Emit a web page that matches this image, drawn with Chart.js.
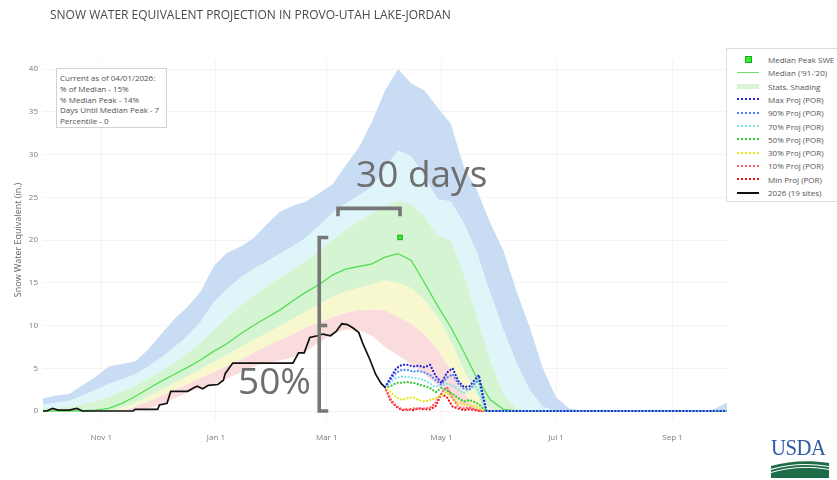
<!DOCTYPE html>
<html lang="en">
<head>
<meta charset="utf-8">
<title>Snow Water Equivalent Projection in Provo-Utah Lake-Jordan</title>
<script src="https://cdn.jsdelivr.net/npm/chart.js@4.4.1/dist/chart.umd.min.js"></script>
<style>
  html, body { margin: 0; padding: 0; background: #fff; overflow: hidden; }
  #wrap { position: relative; width: 837px; height: 480px; overflow: hidden; font-family: "Open Sans", "Liberation Sans", sans-serif; }
  #chart { position: absolute; left: 0; top: 0; }
  .title { position: absolute; left: 50px; top: 9px; font-size: 12px; line-height: 12px; color: #4a4a4a; white-space: nowrap; }
  .info { position: absolute; left: 56px; top: 68px; width: 106px; height: 54px; padding: 4px 0 0 3px; border: 1px solid #d2d2d2; background: #fff; font-size: 8px; line-height: 10.8px; color: #505050; white-space: nowrap; }
  .legend { position: absolute; left: 726px; top: 48px; width: 130px; height: 152px; border: 1px solid #dcdcdc; background: #fff; }
  .legend .row { position: absolute; left: 0; height: 13px; display: flex; align-items: center; font-size: 8px; color: #555; white-space: nowrap; }
  .legend .sym { width: 24px; margin-left: 9px; margin-right: 8px; height: 13px; display: flex; align-items: center; justify-content: center; }
  .note { position: absolute; font-size: 37px; line-height: 37px; color: #6e6e6e; white-space: nowrap; }
  .logo { position: absolute; left: 771px; top: 436px; width: 60px; }
  .logo .usda { font-family: "Liberation Serif", "DejaVu Serif", serif; font-size: 23px; line-height: 23px; color: #2b5ba6; letter-spacing: -0.5px; transform: scaleX(0.9); transform-origin: left center; }
  .logo svg { display: block; margin-top: 2px; }
</style>
</head>
<body>
<div id="wrap">
  <canvas id="chart" width="837" height="480"></canvas>
  <div class="title">SNOW WATER EQUIVALENT PROJECTION IN PROVO-UTAH LAKE-JORDAN</div>
  <div class="info">
    Current as of 04/01/2026:<br>
    % of Median - 15%<br>
    % Median Peak - 14%<br>
    Days Until Median Peak - 7<br>
    Percentile - 0
  </div>
  <div class="legend">
    <div class="row" style="top:4px"><span class="sym"><span style="width:5px;height:5px;background:#33ee33;border:1px solid #1caa1c;display:block"></span></span>Median Peak SWE</div>
    <div class="row" style="top:17.3px"><span class="sym"><span style="width:22px;height:0;border-top:1.5px solid #6ee06e;display:block"></span></span>Median ('91-'20)</div>
    <div class="row" style="top:30.6px"><span class="sym"><span style="width:22px;height:5px;background:#d9f5d6;display:block"></span></span>Stats. Shading</div>
    <div class="row" style="top:43.9px"><span class="sym"><span style="width:22px;height:0;border-top:2px dotted #2222dd;display:block"></span></span>Max Proj (POR)</div>
    <div class="row" style="top:57.2px"><span class="sym"><span style="width:22px;height:0;border-top:2px dotted #4f86f7;display:block"></span></span>90% Proj (POR)</div>
    <div class="row" style="top:70.5px"><span class="sym"><span style="width:22px;height:0;border-top:2px dotted #7fe6e6;display:block"></span></span>70% Proj (POR)</div>
    <div class="row" style="top:83.8px"><span class="sym"><span style="width:22px;height:0;border-top:2px dotted #33cc33;display:block"></span></span>50% Proj (POR)</div>
    <div class="row" style="top:97.1px"><span class="sym"><span style="width:22px;height:0;border-top:2px dotted #e6e619;display:block"></span></span>30% Proj (POR)</div>
    <div class="row" style="top:110.4px"><span class="sym"><span style="width:22px;height:0;border-top:2px dotted #ff5c6c;display:block"></span></span>10% Proj (POR)</div>
    <div class="row" style="top:123.7px"><span class="sym"><span style="width:22px;height:0;border-top:2px dotted #ee1111;display:block"></span></span>Min Proj (POR)</div>
    <div class="row" style="top:137px"><span class="sym"><span style="width:22px;height:0;border-top:2px solid #111;display:block"></span></span>2026 (19 sites)</div>
  </div>
  <div class="note" style="left:356px;top:154px">30 days</div>
  <div class="note" style="left:238px;top:361px">50%</div>
  <div class="logo">
    <div class="usda">USDA</div>
    <svg width="58" height="17" viewBox="0 0 58 17">
      <rect x="0" y="0" width="58" height="17" fill="#1e6b48"/>
      <path d="M0 5 C 18 0, 38 -1, 58 2 L58 0 L0 0 Z" fill="#ffffff"/>
      <path d="M0 8.5 C 20 2.5, 40 2.5, 58 5.5" stroke="#ffffff" stroke-width="1.2" fill="none"/>
      <path d="M0 11.5 C 22 5, 42 5.5, 58 8.5" stroke="#ffffff" stroke-width="1" fill="none"/>
    </svg>
  </div>
</div>
<script>
// Day of water year (0 = Oct 1) for the weekly statistics
const days = [0,7,14,21,28,35,42,49,56,63,70,77,84,91,98,105,112,119,126,133,140,147,154,161,168,175,182,189,196,203,210,217,224,231,238,245,252,259,266,273,280,287,294,301,308,315,322,329,336,343,350,357,364];

// Period-of-record statistics, inches of SWE
const maxSwe    = [1.5,1.8,2.0,3.0,4.0,5.2,5.5,5.8,7.2,9.0,10.8,12.2,14.0,17.0,18.5,19.2,20.2,21.8,23.3,24.0,24.5,25.5,26.5,28.7,30.8,33.8,37.5,40.0,38.3,37.5,35.5,33.6,28.5,25.8,22.0,18.8,14.0,9.8,5.0,1.6,0.3,0,0,0,0,0,0,0,0,0,0,0.2,1.0];
const p90Swe    = [0.8,1.0,1.2,1.8,2.5,3.2,3.7,4.3,5.2,6.3,7.5,8.8,10.5,12.8,14.3,15.6,16.6,17.5,18.4,19.3,20.3,21.7,23.2,24.3,25.2,26.2,28.5,30.5,29.8,27.5,24.8,24.5,22.0,18.5,13.8,9.5,5.6,2.5,0.5,0,0,0,0,0,0,0,0,0,0,0,0,0,0];
const p70Swe    = [0.3,0.4,0.5,0.8,1.2,1.7,2.3,3.0,3.8,4.7,5.7,6.8,8.0,9.5,11.0,12.3,13.5,14.6,15.6,16.6,17.6,18.7,20.0,21.2,22.2,23.1,24.0,24.6,24.2,22.8,20.5,20.0,16.0,11.0,6.0,2.0,0.3,0,0,0,0,0,0,0,0,0,0,0,0,0,0,0,0];
const medianSwe = [0,0,0,0,0.1,0.3,0.9,1.7,2.6,3.5,4.3,5.1,6.0,7.0,7.9,9.0,10.0,10.9,11.8,12.9,13.9,14.8,15.9,16.6,16.9,17.2,18.0,18.4,17.6,15.0,12.3,9.8,6.9,3.8,1.3,0.2,0,0,0,0,0,0,0,0,0,0,0,0,0,0,0,0,0];
const p30Swe    = [0,0,0,0,0,0.1,0.4,1.0,1.7,2.5,3.3,4.1,4.9,5.8,6.6,7.5,8.3,9.1,9.9,10.8,11.7,12.5,13.4,14.0,14.4,14.8,15.3,15.0,14.4,13.0,11.0,8.2,4.8,2.0,0.2,0,0,0,0,0,0,0,0,0,0,0,0,0,0,0,0,0,0];
const p10Swe    = [0,0,0,0,0,0,0.1,0.5,1.1,1.8,2.5,3.2,3.9,4.6,5.3,6.0,6.8,7.6,8.3,9.0,9.8,10.4,11.0,11.5,11.8,11.9,11.8,11.0,10.2,9.0,7.2,4.8,2.1,0.2,0,0,0,0,0,0,0,0,0,0,0,0,0,0,0,0,0,0,0];
const minSwe    = [0,0,0,0,0,0,0,0.1,0.3,0.8,1.5,2.2,2.7,3.2,3.8,4.5,5.2,5.6,5.9,6.3,7.0,8.0,9.0,9.5,9.5,8.8,7.5,6.5,5.5,4.3,3.0,1.5,0.4,0,0,0,0,0,0,0,0,0,0,0,0,0,0,0,0,0,0,0,0];

// Median peak
const peakDay = [190];
const peakSwe = [20.3];

// 2026 observed (19 sites)
const currentDays = [0,2,5,8,14,18,21,48,49,61,62,66,68,77,80,82,85,88,93,96,97,101,133,136,139,142,146,149,153,156,159,162,165,168,170,174,177,180,182];
const currentSwe  = [0,0,0.3,0.1,0.1,0.3,0,0,0.2,0.2,0.7,0.9,2.3,2.3,2.7,2.9,2.6,3.0,3.1,3.6,4.4,5.6,5.6,6.8,6.8,8.6,8.8,9.0,8.8,9.3,10.2,10.1,9.7,9.2,8.0,6.0,4.3,3.2,2.8];

// Projections from Apr 1 using period-of-record melt
const projDays = [182,185,188,191,194,197,200,203,206,209,212,215,218,221,224,227,230,232,234,236,364];
const projMax  = [2.8,3.9,5.0,5.4,5.4,5.2,5.3,5.1,5.4,4.1,3.3,4.5,5.0,3.5,2.8,2.9,3.7,4.2,2.0,0,0];
const proj90   = [2.8,3.7,4.5,4.8,4.8,4.6,4.7,4.5,4.2,3.6,3.1,3.9,4.3,3.2,2.6,2.5,3.3,3.6,1.5,0,0];
const proj70   = [2.8,3.4,3.9,4.0,4.0,3.9,3.8,3.6,3.2,2.8,3.0,3.2,3.0,2.5,2.1,2.6,2.9,2.2,0.8,0,0];
const proj50   = [2.8,2.9,3.3,3.3,3.4,3.3,3.1,2.9,2.7,2.2,2.7,2.4,2.0,1.5,1.1,1.3,1.0,0.8,0.3,0,0];
const proj30   = [2.8,2.2,1.6,1.3,1.5,1.6,1.3,1.1,1.3,1.5,1.8,2.2,1.5,0.8,0.9,0.6,0.6,0.3,0.1,0,0];
const proj10   = [2.8,1.4,0.6,0.2,0.1,0.3,0.3,0.3,0.4,1.0,2.1,2.8,1.5,0.5,0.3,0.4,0.2,0.1,0,0,0];
const projMin  = [2.8,1.2,0.5,0.1,0.2,0.1,0.3,0.2,0.2,0.6,2.0,1.6,0.5,0.3,0.1,0.2,0.1,0,0,0,0];

// Axis ticks
const tickDays   = [31,92,151,212,273,335];
const tickLabels = ['Nov 1','Jan 1','Mar 1','May 1','Jul 1','Sep 1'];
const yTickValues = [0,5,10,15,20,25,30,35,40];

// Bracket annotations (day of water year / SWE)
const spanBracket  = { startDay: 157, endDay: 190, swe: 23.7 };
const depthBracket = { day: 147, low: 0, high: 20.3, mid: 10 };

const pts = (xs, ys) => xs.map((d, i) => ({ x: d, y: ys[i] }));

function band(values, color, order) {
  return {
    data: pts(days, values),
    borderColor: 'rgba(0,0,0,0)',
    borderWidth: 0,
    backgroundColor: color,
    fill: color ? '+1' : false,
    pointRadius: 0,
    order: order
  };
}

function proj(values, color, order) {
  return {
    data: pts(projDays, values),
    borderColor: color,
    borderWidth: 2.2,
    borderDash: [0.1, 3.3],
    borderCapStyle: 'round',
    fill: false,
    pointRadius: 0,
    order: order
  };
}

const bracketPlugin = {
  id: 'brackets',
  afterDatasetsDraw(chart) {
    const { ctx, scales: { x, y } } = chart;
    ctx.save();
    ctx.strokeStyle = '#777777';
    ctx.lineWidth = 3.6;
    ctx.lineJoin = 'miter';
    ctx.lineCap = 'butt';
    const hx1 = x.getPixelForValue(spanBracket.startDay);
    const hx2 = x.getPixelForValue(spanBracket.endDay);
    const hy = y.getPixelForValue(spanBracket.swe);
    ctx.beginPath();
    ctx.moveTo(hx1, hy + 8); ctx.lineTo(hx1, hy); ctx.lineTo(hx2, hy); ctx.lineTo(hx2, hy + 8);
    ctx.stroke();
    const vx = x.getPixelForValue(depthBracket.day);
    const vTop = y.getPixelForValue(depthBracket.high);
    const vBot = y.getPixelForValue(depthBracket.low);
    const vMid = y.getPixelForValue(depthBracket.mid);
    ctx.beginPath();
    ctx.moveTo(vx + 9, vTop); ctx.lineTo(vx, vTop); ctx.lineTo(vx, vBot); ctx.lineTo(vx + 9, vBot);
    ctx.stroke();
    ctx.beginPath();
    ctx.moveTo(vx, vMid); ctx.lineTo(vx + 8, vMid);
    ctx.stroke();
    ctx.restore();
  }
};

new Chart(document.getElementById('chart'), {
  type: 'line',
  data: {
    datasets: [
      { data: pts(peakDay, peakSwe), showLine: false, pointStyle: 'rect', pointRadius: 3.2,
        pointBackgroundColor: '#33ee33', pointBorderColor: '#1caa1c', pointBorderWidth: 1, order: 0 },
      { data: pts(currentDays, currentSwe), borderColor: '#111111', borderWidth: 1.7, pointRadius: 0, fill: false, order: 1 },
      proj(projMax, '#2222dd', 2),
      proj(proj90, '#4f86f7', 3),
      proj(proj70, '#7fe6e6', 4),
      proj(proj50, '#33cc33', 5),
      proj(proj30, '#e6e619', 6),
      proj(proj10, '#ff5c6c', 7),
      proj(projMin, '#ee1111', 8),
      { data: pts(days, medianSwe), borderColor: '#55dd55', borderWidth: 1.3, pointRadius: 0, fill: false, order: 9 },
      band(maxSwe, '#c8dcf4', 10),
      band(p90Swe, '#def5fa', 11),
      band(p70Swe, '#d5f4d2', 12),
      band(p30Swe, '#f8f8cf', 13),
      band(p10Swe, '#fadcdc', 14),
      band(minSwe, null, 15)
    ]
  },
  options: {
    responsive: false,
    maintainAspectRatio: false,
    animation: false,
    events: [],
    layout: { padding: { left: 0, right: 110, top: 60.45, bottom: 30.45 } },
    plugins: { legend: { display: false }, tooltip: { enabled: false }, title: { display: false } },
    elements: { line: { tension: 0 } },
    scales: {
      x: {
        type: 'linear',
        min: 0,
        max: 364,
        afterBuildTicks: (scale) => { scale.ticks = tickDays.map(v => ({ value: v })); },
        afterFit: (scale) => { scale.height = 30; },
        ticks: {
          autoSkip: false,
          maxRotation: 0,
          padding: 13,
          color: '#7a7a7a',
          font: { family: 'Open Sans', size: 8 },
          callback: (v) => tickLabels[tickDays.indexOf(v)]
        },
        grid: { color: 'rgba(0,0,0,0.045)', drawTicks: false },
        border: { display: false }
      },
      y: {
        type: 'linear',
        min: -1,
        max: 41,
        afterBuildTicks: (scale) => { scale.ticks = yTickValues.map(v => ({ value: v })); },
        afterFit: (scale) => { scale.width = 43; },
        ticks: {
          padding: 5,
          color: '#7a7a7a',
          font: { family: 'Open Sans', size: 8 },
          callback: (v) => String(v)
        },
        title: {
          display: true,
          text: 'Snow Water Equivalent (in.)',
          color: '#666666',
          font: { family: 'Open Sans', size: 9 },
          padding: { top: 12.6, bottom: 0 }
        },
        grid: { color: 'rgba(0,0,0,0.045)', drawTicks: false },
        border: { display: false }
      }
    }
  },
  plugins: [bracketPlugin]
});
</script>
</body>
</html>
